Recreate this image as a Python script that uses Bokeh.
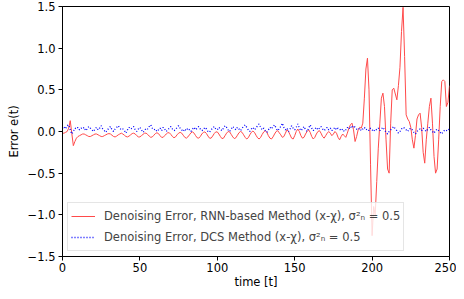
from bokeh.plotting import figure
from bokeh.models import Range1d, FixedTicker, Legend, LegendItem, ColumnDataSource
from bokeh.embed import file_html
from bokeh.resources import INLINE

t = list(range(0, 251))

red = [
    -0.02, -0.02, -0.01, 0.0, 0.04, 0.13, -0.02, -0.17, -0.12, -0.08,
    -0.06, -0.05, -0.04, -0.03, -0.03, -0.04, -0.05, -0.06, -0.06, -0.05,
    -0.04, -0.03, -0.03, -0.04, -0.05, -0.06, -0.06, -0.05, -0.04, -0.03,
    -0.025, -0.03, -0.045, -0.06, -0.065, -0.055, -0.04, -0.03, -0.02, -0.03,
    -0.045, -0.06, -0.065, -0.055, -0.04, -0.025, -0.02, -0.03, -0.05, -0.065,
    -0.065, -0.05, -0.035, -0.02, -0.02, -0.035, -0.055, -0.07, -0.065, -0.045,
    -0.025, -0.015, -0.025, -0.05, -0.07, -0.07, -0.05, -0.03, -0.015, -0.015,
    -0.035, -0.06, -0.075, -0.065, -0.04, -0.02, -0.01, -0.02, -0.045, -0.07,
    -0.08, -0.065, -0.04, -0.015, -0.005, -0.02, -0.05, -0.075, -0.08, -0.06,
    -0.03, -0.01, -0.005, -0.025, -0.055, -0.08, -0.08, -0.055, -0.025, -0.005,
    -0.005, -0.03, -0.06, -0.085, -0.08, -0.05, -0.02, 0.0, -0.005, -0.035,
    -0.065, -0.085, -0.075, -0.045, -0.015, 0.0, -0.01, -0.04, -0.07, -0.09,
    -0.075, -0.04, -0.01, 0.005, -0.01, -0.045, -0.075, -0.09, -0.07, -0.035,
    -0.005, 0.01, -0.01, -0.05, -0.08, -0.09, -0.065, -0.03, 0.0, 0.01,
    -0.015, -0.04, -0.07, -0.06, -0.02, 0.02, 0.0, -0.04, -0.08, -0.09,
    -0.05, 0.0, 0.03, 0.0, -0.05, -0.08, -0.07, -0.03, 0.0, 0.02,
    -0.01, -0.06, -0.09, -0.07, -0.03, 0.0, 0.01, -0.02, -0.06, -0.08,
    -0.05, -0.02, 0.0, -0.02, -0.05, -0.03, 0.0, -0.02, -0.07, -0.1,
    -0.06, -0.03, -0.05, -0.07, -0.02, 0.04, 0.08, 0.1, 0.02, -0.12,
    -0.06, 0.02, 0.05, 0.04, 0.1, 0.4, 0.75, 0.88, 0.5, -0.4,
    -1.25, -0.9, -1.0, -0.6, -0.2, 0.1, 0.4, 0.46, 0.3, -0.1,
    -0.45, -0.5, 0.1, 0.5, 0.52, 0.45, 0.38, 0.55, 0.77, 1.2,
    1.49, 0.9, 0.2, 0.15, 0.12, 0.05, -0.1, -0.2, -0.05, 0.15,
    0.2, 0.22, 0.05, -0.25, -0.38, -0.1, 0.1, 0.3, 0.4, 0.1,
    -0.3, -0.5, -0.45, -0.1, 0.3, 0.6, 0.62, 0.6, 0.3, 0.35,
    0.55,
]

blue = [
    0.04, 0.06, 0.03, 0.07, 0.08, 0.02, -0.03, 0.0, 0.04, 0.03,
    0.05, 0.02, 0.04, 0.03, 0.05, 0.01, 0.03, 0.06, 0.04, 0.02,
    0.0, 0.03, 0.05, 0.02, 0.04, 0.07, 0.03, 0.01, -0.01, 0.02,
    0.04, 0.06, 0.02, 0.0, 0.03, 0.05, 0.07, 0.04, 0.02, 0.03,
    0.01, -0.02, 0.02, 0.05, 0.03, 0.04, 0.06, 0.02, 0.0, 0.03,
    0.05, 0.02, -0.01, 0.01, 0.04, 0.03, 0.06, 0.08, 0.04, 0.02,
    0.03, 0.0, 0.02, 0.04, 0.01, 0.05, 0.03, 0.0, 0.02, 0.04,
    0.06, 0.03, 0.01, 0.02, 0.05, 0.07, 0.04, 0.02, 0.0, 0.03,
    0.01, 0.04, 0.02, 0.0, 0.03, 0.05, 0.02, 0.04, 0.06, 0.03,
    0.01, 0.02, 0.05, 0.03, 0.0, -0.01, 0.02, 0.04, 0.06, 0.03,
    0.02, 0.05, 0.03, 0.01, 0.04, 0.07, 0.05, 0.02, 0.0, 0.03,
    0.06, 0.04, 0.02, 0.05, 0.03, 0.01, 0.04, 0.06, 0.08, 0.05,
    0.02, 0.0, 0.03, 0.05, 0.02, 0.04, 0.07, 0.09, 0.05, 0.02,
    0.04, 0.01, -0.01, 0.02, 0.05, 0.03, 0.06, 0.08, 0.04, 0.01,
    0.03, 0.06, 0.1, 0.05, 0.02, 0.04, 0.0, 0.03, 0.07, 0.04,
    0.02, 0.05, 0.09, 0.04, 0.01, 0.03, 0.06, 0.02, 0.0, 0.04,
    0.08, 0.04, 0.01, 0.03, 0.05, 0.02, 0.04, 0.06, 0.03, 0.01,
    0.03, 0.05, 0.02, 0.04, 0.01, 0.03, 0.05, 0.02, 0.04, 0.03,
    0.01, 0.03, 0.0, 0.02, 0.05, 0.03, 0.06, 0.04, 0.07, 0.05,
    0.03, 0.02, 0.04, 0.01, 0.03, 0.05, 0.02, 0.03, 0.01, 0.04,
    0.02, 0.0, 0.03, 0.02, 0.04, 0.01, 0.03, 0.05, 0.02, -0.01,
    -0.03, 0.0, 0.02, 0.04, 0.06, 0.03, 0.01, -0.02, 0.0, 0.03,
    0.05, 0.04, 0.02, 0.0, 0.03, 0.04, 0.02, -0.01, -0.03, 0.0,
    0.02, 0.03, 0.01, 0.04, 0.02, 0.0, 0.03, 0.05, 0.02, 0.0,
    -0.02, 0.01, 0.03, 0.01, -0.01, -0.03, 0.0, 0.02, 0.01, 0.03,
    0.02,
]

x_ticks = [0, 50, 100, 150, 200, 250]
y_ticks = [-1.5, -1.0, -0.5, 0.0, 0.5, 1.0, 1.5]
y_tick_labels = ["\u22121.5", "\u22121.0", "\u22120.5", "0.0", "0.5", "1.0", "1.5"]

label_red = "Denoising Error, RNN-based Method (x-\u03c7), \u03c3\u00b2\u2099 = 0.5"
label_blue = "Denoising Error, DCS Method (x-\u03c7), \u03c3\u00b2\u2099 = 0.5"

FONT = "DejaVu Sans"
FS = "11.5px"

p = figure(width=456, height=291, output_backend="svg", toolbar_location=None,
           x_range=Range1d(0, 250), y_range=Range1d(-1.5, 1.5),
           min_border_left=62, min_border_right=7, min_border_top=6, min_border_bottom=34)

src = ColumnDataSource(dict(t=t, red=red, blue=blue))
r1 = p.line("t", "red", source=src, line_color="#ff4a4a", line_width=1)
r2 = p.line("t", "blue", source=src, line_color="#0000ff", line_width=1.3, line_dash="1 2")

p.grid.visible = False
p.outline_line_color = "black"
p.outline_line_width = 1
p.outline_line_alpha = 1
p.background_fill_color = "white"
p.border_fill_color = "white"

for ax in (p.xaxis[0], p.yaxis[0]):
    ax.major_tick_in = 0
    ax.major_tick_out = 4
    ax.minor_tick_in = 0
    ax.minor_tick_out = 0
    ax.axis_line_color = "black"
    ax.major_tick_line_color = "black"
    ax.major_label_text_font = FONT
    ax.major_label_text_font_size = FS
    ax.major_label_text_color = "black"
    ax.axis_label_text_font = FONT
    ax.axis_label_text_font_size = FS
    ax.axis_label_text_font_style = "normal"
    ax.axis_label_text_color = "black"
    ax.major_label_standoff = 3

p.yaxis.axis_label_standoff = 4
p.xaxis.axis_label_standoff = 0
p.xaxis.major_label_standoff = 2

p.xaxis.ticker = FixedTicker(ticks=x_ticks)
p.yaxis.ticker = FixedTicker(ticks=y_ticks)
p.yaxis.major_label_overrides = {v: s for v, s in zip(y_ticks, y_tick_labels)}
p.xaxis.axis_label = "time [t]"
p.yaxis.axis_label = "Error e(t)"

legend = Legend(items=[LegendItem(label=label_red, renderers=[r1]),
                       LegendItem(label=label_blue, renderers=[r2])],
                location="bottom_left")
legend.margin = 5
legend.padding = 3
legend.spacing = 1
legend.glyph_width = 24
legend.label_standoff = 9
legend.label_text_font = FONT
legend.label_text_font_size = FS
legend.border_line_color = "#cccccc"
legend.background_fill_alpha = 0.8
p.add_layout(legend, "center")

open("out.html", "w").write(file_html(p, INLINE))
